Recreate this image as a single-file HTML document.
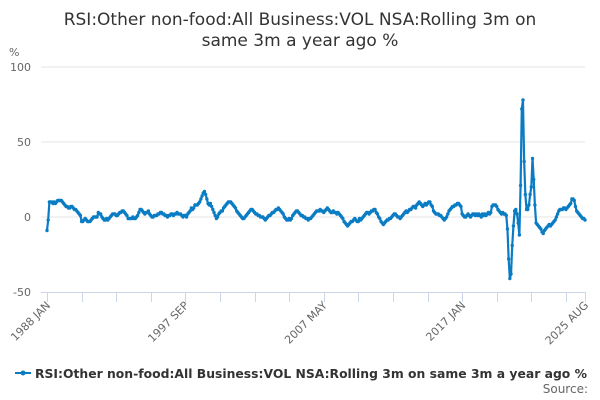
<!DOCTYPE html>
<html><head><meta charset="utf-8"><style>
body{margin:0;background:#fff;font-family:"DejaVu Sans","Liberation Sans",sans-serif}
svg{display:block}
</style></head><body>
<svg id="chart" width="600" height="400" xmlns="http://www.w3.org/2000/svg" font-family="DejaVu Sans, Liberation Sans, sans-serif">
<text x="300" y="25" text-anchor="middle" font-size="17" fill="#333">RSI:Other non-food:All Business:VOL NSA:Rolling 3m on</text>
<text x="300" y="46" text-anchor="middle" font-size="17" fill="#333">same 3m a year ago %</text>
<text x="9" y="56" font-size="11" fill="#666">%</text>
<g id="grid"></g><g id="xaxis"></g><g id="series"></g>
<g>
<line x1="15" y1="373" x2="31" y2="373" stroke="#0a7cc4" stroke-width="2"/>
<circle cx="23" cy="373" r="2.5" fill="#0a7cc4"/>
<text x="35" y="378" font-size="12.5" font-weight="bold" fill="#333" textLength="552" lengthAdjust="spacingAndGlyphs">RSI:Other non-food:All Business:VOL NSA:Rolling 3m on same 3m a year ago %</text>
</g>
<text x="588" y="393" text-anchor="end" font-size="12" fill="#666">Source:</text>
</svg>
<script>
const startYear = 1988;
const yTicks = [100, 50, 0, -50];
const xTickLabels = ["1988 JAN", "1997 SEP", "2007 MAY", "2017 JAN", "2025 AUG"];
const xTickIndexes = [0, 116, 232, 348, 451];
const values = [
-9,-2,10,10,10,9,10,9,10,11,11,11,
11,10,9,8,7,7,6,6,7,7,6,5,
5,4,3,2,1,-3,-3,-2,-1,-2,-3,-3,
-3,-2,-1,0,0,0,0,3,2,2,0,-1,
-2,-2,-1,-2,-1,0,1,2,2,2,1,1,
2,3,3,4,4,3,2,1,-1,-1,-1,-1,
0,-1,-1,0,1,3,5,5,4,3,2,3,
3,4,2,1,0,0,1,1,1,2,2,3,
3,2,2,1,1,0,1,1,2,2,1,2,
2,3,2,2,2,1,0,1,1,0,2,3,
4,6,5,6,8,8,8,9,10,12,14,16,
17,15,12,9,8,9,7,5,3,1,-1,0,
2,3,4,4,6,7,8,9,10,10,10,9,
8,7,6,4,3,2,1,0,-1,-1,0,1,
2,3,4,5,5,4,3,2,2,1,1,0,
0,0,-1,-2,-1,0,1,1,2,3,3,4,
5,5,6,5,4,3,2,0,-1,-2,-2,-1,
-2,-1,1,2,3,4,4,3,2,1,1,0,
0,-1,-1,-2,-1,-1,0,1,2,3,4,4,
4,5,4,4,3,4,5,6,5,4,3,3,
4,3,3,2,3,2,1,0,-1,-3,-4,-5,
-6,-5,-4,-3,-3,-2,-1,-2,-3,-3,-1,-2,
-1,0,1,2,3,3,2,3,4,4,5,5,
3,2,0,-1,-3,-4,-5,-4,-3,-2,-2,-1,
-1,0,1,2,2,1,0,0,-1,0,1,2,
3,4,3,4,5,5,6,7,7,6,8,9,
10,9,8,7,8,9,8,9,10,10,8,7,
4,3,2,2,2,1,1,0,-1,-2,-1,0,
2,4,5,6,7,7,8,8,9,9,8,7,
2,1,0,0,1,2,1,0,1,2,2,1,
2,1,2,1,0,2,1,2,1,2,3,2,
3,7,8,8,8,7,5,4,3,2,3,2,
2,1,-8,-28,-41,-38,-19,-6,4,5,2,-4,
-12,21,72,78,37,15,5,5,8,15,20,39,
25,8,-4,-5,-6,-7,-8,-10,-11,-9,-8,-7,
-6,-5,-6,-5,-4,-3,-2,0,2,4,5,5,
5,6,6,5,6,7,8,9,12,12,11,7,
4,3,2,1,0,-1,-1,-2
];
const NS="http://www.w3.org/2000/svg";
const X0=47, X1=585, Y0=217, PPU=1.5;
const xs=i=>X0+(X1-X0)*i/(values.length-1);
const ys=v=>Y0-v*PPU;
function mk(t,a,p){const e=document.createElementNS(NS,t);for(const k in a)e.setAttribute(k,a[k]);p.appendChild(e);return e;}
const grid=document.getElementById('grid');
yTicks.forEach(v=>{
  const l=mk('line',{x1:41,x2:585,y1:ys(v),y2:ys(v),stroke:v===-50?'none':'#e6e6e6','stroke-width':1},grid);
  
  
  const t=mk('text',{x:31,y:ys(v)+4,'text-anchor':'end','font-size':11,fill:'#666'},grid);
  t.textContent=v;
  
  
});
const xa=document.getElementById('xaxis');
const ax=mk('line',{x1:41,x2:586,y1:292.5,y2:292.5,stroke:'#ccd6eb','stroke-width':1},xa);


for(let i=0;i<=16;i++){
  const idx=Math.min(i*29,values.length-1);
  const x=Math.round(xs(idx))+0.5;
  const tk=mk('line',{x1:x,x2:x,y1:292,y2:302,stroke:'#ccd6eb','stroke-width':1},xa);
  
  
}
{const x=Math.round(xs(values.length-1))+0.5;
 const tk=mk('line',{x1:x,x2:x,y1:292,y2:302,stroke:'#ccd6eb','stroke-width':1},xa);
 
 }
xTickLabels.forEach((lab,k)=>{
  const x=xs(xTickIndexes[k])+4, y=306;
  const t=mk('text',{x:x,y:y,'text-anchor':'end','font-size':11,fill:'#666',transform:`rotate(-45 ${x} ${y})`},xa);
  t.textContent=lab;
  
  
});
const sg=document.getElementById('series');
const d=values.map((v,i)=>(i?'L':'M')+xs(i).toFixed(2)+' '+ys(v).toFixed(2)).join(' ');
const p=mk('path',{d:d,fill:'none',stroke:'#0a7cc4','stroke-width':2.2,'stroke-linejoin':'round'},sg);


values.forEach((v,i)=>{
  const c=mk('circle',{cx:xs(i),cy:ys(v),r:1.7,fill:'#0a7cc4'},sg);
  
  
});
</script>
</body></html>
